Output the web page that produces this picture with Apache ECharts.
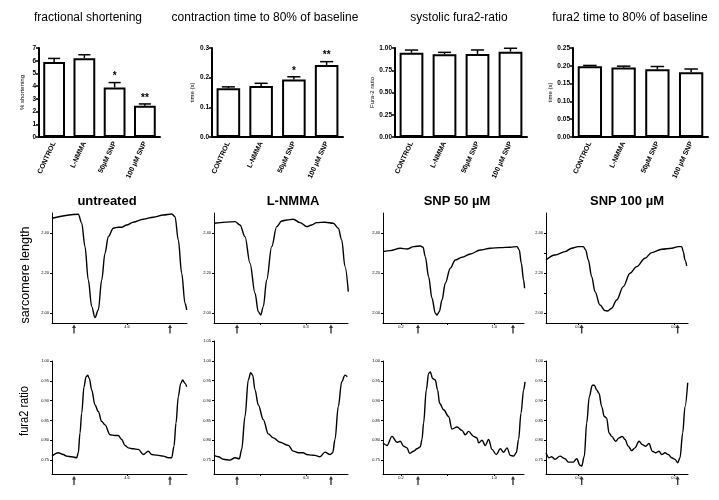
<!DOCTYPE html>
<html><head><meta charset="utf-8">
<script src="https://cdn.jsdelivr.net/npm/echarts@6/dist/echarts.min.js"></script>
<style>html,body{margin:0;padding:0;background:#fff}#c{width:719px;height:500px}</style>
</head><body><div id="c"></div><script>
// ---------- data ----------
const barCats = ['CONTROL', 'L-NMMA', '50µM SNP', '100 µM SNP'];
const fsMean = [5.9, 6.2, 3.9, 2.45];
const fsErr = [0.28, 0.27, 0.38, 0.15];
const fsStars = ['', '', '*', '**'];
const ctMean = [0.164, 0.172, 0.194, 0.243];
const ctErr = [0.005, 0.009, 0.009, 0.011];
const ctStars = ['', '', '*', '**'];
const frMean = [0.947, 0.929, 0.933, 0.959];
const frErr = [0.03, 0.022, 0.045, 0.038];
const ftMean = [0.199, 0.195, 0.19, 0.182];
const ftErr = [0.002, 0.004, 0.008, 0.009];

// sarcomere length traces [time ms, length]
const slUntreated = [[0,2.474],[263,2.494],[297,2.449],[330,2.332],[363,2.165],[397,2.032],[430,1.977],[463,2.015],[497,2.165],[530,2.299],[563,2.382],[613,2.424],[663,2.429],[697,2.429],[747,2.44],[813,2.454],[913,2.469],[1013,2.479],[1113,2.49],[1197,2.495],[1230,2.482],[1263,2.365],[1297,2.199],[1330,2.049],[1347,2.015]];
const slLNMMA = [[0,2.449],[210,2.457],[260,2.44],[310,2.382],[360,2.249],[410,2.099],[443,2.007],[467,1.99],[493,2.032],[527,2.165],[577,2.332],[627,2.432],[677,2.46],[727,2.465],[793,2.469],[860,2.452],[927,2.432],[977,2.44],[1027,2.452],[1110,2.454],[1193,2.449],[1243,2.424],[1277,2.365],[1310,2.232],[1343,2.107]];
const slSNP50 = [[0,2.307],[73,2.312],[173,2.324],[240,2.32],[306,2.332],[373,2.335],[400,2.329],[423,2.282],[456,2.182],[490,2.074],[523,1.999],[540,1.99],[563,2.007],[590,2.065],[623,2.149],[673,2.224],[723,2.265],[790,2.279],[873,2.295],[973,2.315],[1073,2.324],[1173,2.327],[1273,2.329],[1340,2.332],[1363,2.315],[1383,2.249],[1406,2.165],[1416,2.124]];
const slSNP100 = [[0,2.265],[90,2.29],[190,2.307],[257,2.324],[323,2.332],[373,2.332],[397,2.315],[423,2.265],[457,2.182],[490,2.107],[540,2.04],[590,2.012],[617,2.01],[657,2.024],[707,2.065],[773,2.132],[840,2.199],[907,2.232],[990,2.274],[1057,2.302],[1157,2.319],[1257,2.324],[1323,2.332],[1357,2.332],[1373,2.307],[1390,2.265],[1407,2.235]];

// fura2 ratio traces [time ms, ratio]
const fuUntreated = [[0,0.76],[63,0.7685],[113,0.764],[147,0.76],[197,0.7585],[247,0.756],[263,0.7685],[280,0.8185],[297,0.8685],[320,0.935],[340,0.96],[357,0.964],[373,0.956],[397,0.927],[430,0.889],[463,0.8725],[497,0.8475],[530,0.839],[580,0.814],[630,0.812],[663,0.812],[697,0.802],[730,0.787],[763,0.781],[813,0.7785],[863,0.777],[913,0.764],[963,0.7725],[997,0.764],[1047,0.7625],[1113,0.76],[1163,0.756],[1197,0.756],[1220,0.785],[1240,0.8435],[1263,0.91],[1287,0.9435],[1307,0.952],[1330,0.9435],[1347,0.935]];
const fuLNMMA = [[0,0.762],[43,0.7585],[93,0.752],[160,0.75],[210,0.756],[253,0.7535],[277,0.777],[310,0.86],[343,0.952],[367,0.97],[387,0.964],[410,0.927],[443,0.889],[493,0.852],[543,0.816],[593,0.806],[660,0.795],[743,0.787],[793,0.7725],[843,0.7685],[893,0.7685],[927,0.764],[977,0.7625],[1010,0.762],[1060,0.7585],[1110,0.77],[1160,0.764],[1187,0.7685],[1210,0.802],[1243,0.885],[1277,0.9475],[1310,0.964],[1333,0.96]];
const fuSNP50 = [[0,0.7935],[40,0.787],[90,0.81],[140,0.795],[173,0.7975],[206,0.785],[240,0.781],[266,0.767],[306,0.7725],[340,0.7785],[373,0.7835],[390,0.802],[406,0.8435],[433,0.927],[456,0.9685],[473,0.9725],[496,0.956],[523,0.952],[546,0.927],[566,0.8935],[606,0.877],[656,0.86],[690,0.8285],[740,0.8335],[790,0.825],[823,0.814],[856,0.8225],[906,0.81],[940,0.806],[956,0.7935],[990,0.8],[1023,0.787],[1056,0.802],[1090,0.777],[1133,0.764],[1173,0.7785],[1206,0.77],[1240,0.781],[1273,0.762],[1306,0.76],[1333,0.7685],[1356,0.802],[1380,0.8685],[1406,0.927],[1420,0.9475]];
const fuSNP100 = [[0,0.7685],[30,0.756],[57,0.7585],[90,0.752],[140,0.76],[190,0.7535],[223,0.745],[273,0.745],[307,0.7535],[340,0.737],[357,0.735],[383,0.76],[407,0.8435],[433,0.91],[463,0.939],[483,0.939],[507,0.927],[530,0.9185],[557,0.885],[583,0.86],[607,0.856],[630,0.8185],[657,0.81],[697,0.7975],[730,0.806],[763,0.81],[790,0.802],[823,0.785],[857,0.774],[890,0.781],[930,0.7975],[963,0.789],[997,0.785],[1030,0.792],[1063,0.7725],[1097,0.7685],[1130,0.7725],[1157,0.764],[1190,0.7685],[1223,0.764],[1257,0.756],[1290,0.752],[1317,0.7435],[1340,0.756],[1367,0.8185],[1390,0.885],[1417,0.945]];

// stimulation arrows (ms)
const arrUntreated = [220, 1180];
const arrLNMMA = [230, 1170];
const arrSNP50 = [350, 1300];
const arrSNP100 = [357, 1317];

// x tick positions / labels of trace panels
const xtUntreated = [750], xlUntreated = ['4.6'];
const xtLNMMA = [460, 920], xlLNMMA = ['', '6.3'];
const xtSNP50 = [180, 643, 1113], xlSNP50 = ['0.2', '', '1.0'];
const xtSNP100 = [320, 1280], xlSNP100 = ['0.0', '0.0'];

const slTicks = [2.0, 2.2, 2.4];
const slTicksFine = [2.0, 2.1, 2.2, 2.3, 2.4];
const fuTicks = [0.75, 0.80, 0.85, 0.90, 0.95, 1.00];

// ---------- chart ----------
const FONT = '"Liberation Sans", Arial, Helvetica, sans-serif';
const chart = echarts.init(document.getElementById('c'));
const grids = [], xAxes = [], yAxes = [], series = [], graphics = [];

function errRender(stars) {
  return function (params, api) {
    const i = api.value(0), m = api.value(1), e = api.value(2);
    const p0 = api.coord([i, m]), p1 = api.coord([i, m + e]);
    const cap = api.size([1, 0])[0] * 0.2;
    const children = [
      {type: 'line', shape: {x1: p0[0], y1: p0[1], x2: p1[0], y2: p1[1]}, style: {stroke: '#000', lineWidth: 1.5}},
      {type: 'line', shape: {x1: p1[0] - cap, y1: p1[1], x2: p1[0] + cap, y2: p1[1]}, style: {stroke: '#000', lineWidth: 1.5}}
    ];
    const s = stars ? stars[params.dataIndex] : '';
    if (s) children.push({type: 'text', x: p1[0], y: p1[1] - 11,
      style: {text: s, font: 'bold 10px ' + FONT, textAlign: 'center', align: 'center', textVerticalAlign: 'top', verticalAlign: 'top', fill: '#000'}});
    return {type: 'group', children};
  };
}

const barPanels = [
  {title: 'fractional shortening', tx: 88, yName: '% shortening', mean: fsMean, err: fsErr, stars: fsStars, max: 7, interval: 1, dec: 0, grid: {left: 39, top: 48, width: 121, height: 89}, nameGap: 14},
  {title: 'contraction time to 80% of baseline', tx: 265, yName: 'time (s)', mean: ctMean, err: ctErr, stars: ctStars, max: 0.3, interval: 0.1, dec: 1, grid: {left: 212, top: 48, width: 131, height: 89}, nameGap: 17},
  {title: 'systolic fura2-ratio', tx: 459, yName: 'Fura-2 ratio', mean: frMean, err: frErr, stars: null, max: 1, interval: 0.25, dec: 2, grid: {left: 395, top: 48, width: 132, height: 89}, nameGap: 20},
  {title: 'fura2 time to 80% of baseline', tx: 630, yName: 'time (s)', mean: ftMean, err: ftErr, stars: null, max: 0.25, interval: 0.05, dec: 2, grid: {left: 573, top: 48, width: 135, height: 89}, nameGap: 19}
];

barPanels.forEach(p => {
  grids.push(p.grid);
  const gi = grids.length - 1;
  xAxes.push({gridIndex: gi, type: 'category', data: barCats,
    axisLine: {lineStyle: {color: '#000', width: 2}},
    axisTick: {alignWithLabel: true, length: 3, lineStyle: {color: '#000', width: 1.5}},
    axisLabel: {rotate: 65, interval: 0, fontSize: 7, fontWeight: 'bold', color: '#000', fontFamily: FONT, margin: 5}});
  yAxes.push({gridIndex: gi, type: 'value', min: 0, max: p.max, interval: p.interval,
    name: p.yName, nameLocation: 'middle', nameGap: p.nameGap,
    nameTextStyle: {fontSize: 6, color: '#000', fontFamily: FONT},
    axisLine: {show: true, lineStyle: {color: '#000', width: 2}},
    axisTick: {show: true, length: 3, lineStyle: {color: '#000', width: 1.5}},
    splitLine: {show: false},
    axisLabel: {fontSize: 6.5, fontWeight: 'bold', color: '#000', fontFamily: FONT, margin: 3, formatter: v => v.toFixed(p.dec)}});
  series.push({type: 'bar', xAxisIndex: gi, yAxisIndex: gi, data: p.mean, barWidth: '72%',
    itemStyle: {color: '#fff', borderColor: '#000', borderWidth: 2}, silent: true});
  series.push({type: 'custom', xAxisIndex: gi, yAxisIndex: gi, data: p.mean.map((m, i) => [i, m, p.err[i]]),
    renderItem: errRender(p.stars), z: 3, clip: false, silent: true});
  graphics.push({type: 'text', x: p.tx, y: 18, style: {text: p.title, font: '12px ' + FONT, textAlign: 'center', textVerticalAlign: 'middle', fill: '#000'}});
});

const tracePanels = [
  {title: 'untreated', tx: 107, sl: slUntreated, fu: fuUntreated, arrows: arrUntreated, xt: xtUntreated, xl: xlUntreated, left: 52, width: 135, xmax: 1350, fuTop: 361, fuMax: 1.00, slt: slTicks},
  {title: 'L-NMMA', tx: 293, sl: slLNMMA, fu: fuLNMMA, arrows: arrLNMMA, xt: xtLNMMA, xl: xlLNMMA, left: 214, width: 134, xmax: 1340, fuTop: 341, fuMax: 1.05, slt: slTicks},
  {title: 'SNP 50 µM', tx: 457, sl: slSNP50, fu: fuSNP50, arrows: arrSNP50, xt: xtSNP50, xl: xlSNP50, left: 383, width: 141, xmax: 1410, fuTop: 361, fuMax: 1.00, slt: slTicks},
  {title: 'SNP 100 µM', tx: 627, sl: slSNP100, fu: fuSNP100, arrows: arrSNP100, xt: xtSNP100, xl: xlSNP100, left: 546, width: 142, xmax: 1420, fuTop: 361, fuMax: 1.00, slt: slTicksFine}
];

const ARROW = 'path://M3,0 L6,4 L4,4 L4,10 L2,10 L2,4 L0,4 Z';

function traceAxes(p, gi) {
  xAxes.push({gridIndex: gi, type: 'value', min: 0, max: p.xmax,
    axisLine: {lineStyle: {color: '#000', width: 1}},
    axisTick: {show: true, length: 2, customValues: p.xt, lineStyle: {color: '#000', width: 1}},
    axisLabel: {show: true, customValues: p.xt, fontSize: 4, color: '#000', fontFamily: FONT, margin: 2,
      formatter: v => { const k = p.xt.indexOf(v); return k >= 0 ? p.xl[k] : ''; }},
    splitLine: {show: false}});
}

tracePanels.forEach(p => {
  // sarcomere length
  grids.push({left: p.left, top: 213, width: p.width, height: 110});
  let gi = grids.length - 1;
  traceAxes(p, gi);
  yAxes.push({gridIndex: gi, type: 'value', min: 1.95, max: 2.50,
    axisLine: {show: true, lineStyle: {color: '#000', width: 1}},
    axisTick: {show: true, length: 2, customValues: p.slt, lineStyle: {color: '#000'}},
    axisLabel: {show: true, customValues: slTicks, fontSize: 4, color: '#000', fontFamily: FONT, margin: 3, formatter: v => v.toFixed(2)},
    splitLine: {show: false}});
  series.push({type: 'line', xAxisIndex: gi, yAxisIndex: gi, data: p.sl, showSymbol: false, smooth: 0.35, smoothMonotone: 'x',
    lineStyle: {color: '#000', width: 1.4}, silent: true});
  series.push({type: 'scatter', xAxisIndex: gi, yAxisIndex: gi, data: p.arrows.map(t => [t, 1.95]), clip: false,
    symbol: ARROW, symbolSize: [4, 9], symbolOffset: [0, 6], itemStyle: {color: '#000'}, silent: true});
  graphics.push({type: 'text', x: p.tx, y: 201, style: {text: p.title, font: 'bold 13px ' + FONT, textAlign: 'center', textVerticalAlign: 'middle', fill: '#000'}});

  // fura2 ratio
  grids.push({left: p.left, top: p.fuTop, width: p.width, height: 474 - p.fuTop});
  gi = grids.length - 1;
  traceAxes(p, gi);
  const ft = p.fuMax > 1.01 ? fuTicks.concat([1.05]) : fuTicks;
  yAxes.push({gridIndex: gi, type: 'value', min: 0.715, max: p.fuMax,
    axisLine: {show: true, lineStyle: {color: '#000', width: 1}},
    axisTick: {show: true, length: 2, customValues: ft, lineStyle: {color: '#000'}},
    axisLabel: {show: true, customValues: ft, fontSize: 4, color: '#000', fontFamily: FONT, margin: 3, formatter: v => v.toFixed(2)},
    splitLine: {show: false}});
  series.push({type: 'line', xAxisIndex: gi, yAxisIndex: gi, data: p.fu, showSymbol: false, smooth: 0.35, smoothMonotone: 'x',
    lineStyle: {color: '#000', width: 1.4}, silent: true});
  series.push({type: 'scatter', xAxisIndex: gi, yAxisIndex: gi, data: p.arrows.map(t => [t, 0.715]), clip: false,
    symbol: ARROW, symbolSize: [4, 9], symbolOffset: [0, 6.5], itemStyle: {color: '#000'}, silent: true});
});

graphics.push({type: 'text', x: 25, y: 275, rotation: Math.PI / 2, scaleX: 0.93,
  style: {text: 'sarcomere length', font: '13.5px ' + FONT, textAlign: 'center', textVerticalAlign: 'middle', fill: '#000'}});
graphics.push({type: 'text', x: 24, y: 411, rotation: Math.PI / 2, scaleX: 0.85,
  style: {text: 'fura2 ratio', font: '13px ' + FONT, textAlign: 'center', textVerticalAlign: 'middle', fill: '#000'}});

chart.setOption({
  backgroundColor: '#fff',
  animation: false,
  textStyle: {fontFamily: FONT},
  grid: grids, xAxis: xAxes, yAxis: yAxes, series: series,
  graphic: graphics
});
</script></body></html>
